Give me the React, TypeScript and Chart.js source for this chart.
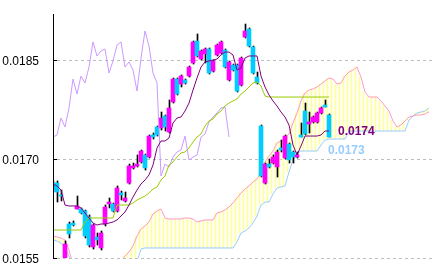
import React, { useEffect, useRef } from "react";
import { Chart, registerables } from "chart.js";

Chart.register(...registerables);

// index of the first period in every series below (periods are consecutive)
const FIRST_INDEX = -1;

const opens = [
  0.016636, 0.016636, 0.016455, 0.015485, 0.016015, 0.016030, 0.016242, 0.016242, 0.016212, 0.016121,
  0.015667, 0.015818, 0.015652, 0.016015, 0.016318, 0.016318, 0.016212, 0.016485, 0.016364, 0.016636,
  0.016864, 0.016894, 0.016955, 0.017061, 0.017030, 0.017364, 0.017485, 0.017470, 0.017652, 0.017409,
  0.017864, 0.018212, 0.018136, 0.018197, 0.018258, 0.018455, 0.018788, 0.018515, 0.018591, 0.018667,
  0.018333, 0.018576, 0.018606, 0.018652, 0.018197, 0.018424, 0.018424, 0.018121, 0.018848, 0.018970,
  0.018697, 0.018242, 0.017500, 0.016636, 0.016924, 0.016939, 0.016879, 0.017167, 0.017015, 0.017227,
  0.017106, 0.017030, 0.017364, 0.017727, 0.017530, 0.017561, 0.017561, 0.017697, 0.017818, 0.017667,
];
const highs = [
  0.016667, 0.016667, 0.016530, 0.015758, 0.016045, 0.016061, 0.016439, 0.016258, 0.016227, 0.016152,
  0.016015, 0.015879, 0.015909, 0.016303, 0.016409, 0.016333, 0.016591, 0.016515, 0.016500, 0.016924,
  0.016939, 0.017061, 0.017136, 0.017076, 0.017364, 0.017394, 0.017500, 0.017712, 0.017667, 0.017894,
  0.018227, 0.018227, 0.018273, 0.018212, 0.018409, 0.018788, 0.018894, 0.018652, 0.018682, 0.018682,
  0.018500, 0.018742, 0.018788, 0.018667, 0.018485, 0.018439, 0.018439, 0.018545, 0.019045, 0.018985,
  0.018712, 0.018318, 0.017515, 0.016939, 0.017000, 0.017061, 0.017136, 0.017288, 0.017364, 0.017242,
  0.017121, 0.017106, 0.017545, 0.017848, 0.017712, 0.017652, 0.017712, 0.017788, 0.017894, 0.017682,
];
const lows = [
  0.016500, 0.016348, 0.016364, 0.015485, 0.015803, 0.015985, 0.016242, 0.016167, 0.015803, 0.015667,
  0.015636, 0.015697, 0.015621, 0.015985, 0.016258, 0.016197, 0.016197, 0.016379, 0.016348, 0.016621,
  0.016848, 0.016879, 0.016939, 0.016833, 0.017015, 0.017303, 0.017348, 0.017439, 0.017424, 0.017394,
  0.017848, 0.017970, 0.018091, 0.018136, 0.018242, 0.018439, 0.018545, 0.018500, 0.018455, 0.018288,
  0.018318, 0.018561, 0.018591, 0.018379, 0.018182, 0.018333, 0.018015, 0.018106, 0.018833, 0.018697,
  0.018288, 0.018136, 0.016727, 0.016621, 0.016864, 0.016924, 0.016727, 0.017106, 0.017000, 0.016939,
  0.016939, 0.017015, 0.017333, 0.017364, 0.017394, 0.017545, 0.017545, 0.017682, 0.017788, 0.017333,
];
const closes = [
  0.016530, 0.016500, 0.016439, 0.015712, 0.015864, 0.016000, 0.016288, 0.016182, 0.015833, 0.015697,
  0.016000, 0.015773, 0.015879, 0.016273, 0.016348, 0.016212, 0.016561, 0.016455, 0.016409, 0.016894,
  0.016894, 0.016924, 0.017121, 0.016864, 0.017348, 0.017333, 0.017364, 0.017621, 0.017485, 0.017773,
  0.018212, 0.017985, 0.018258, 0.018152, 0.018394, 0.018773, 0.018561, 0.018636, 0.018667, 0.018303,
  0.018485, 0.018727, 0.018773, 0.018394, 0.018470, 0.018348, 0.018030, 0.018530, 0.018939, 0.018712,
  0.018303, 0.018152, 0.016742, 0.016924, 0.016879, 0.017030, 0.017106, 0.017136, 0.017348, 0.016985,
  0.017030, 0.017061, 0.017333, 0.017379, 0.017561, 0.017636, 0.017697, 0.017773, 0.017788, 0.017333,
];

const tenkan = [
  0.016621, 0.016591, 0.016530, 0.016303, 0.016288, 0.016288, 0.016288, 0.016258, 0.016182, 0.016106,
  0.016030, 0.016000, 0.016015, 0.016015, 0.016030, 0.016045, 0.016076, 0.016136, 0.016197, 0.016303,
  0.016424, 0.016530, 0.016621, 0.016682, 0.016758, 0.016909, 0.017167, 0.017273, 0.017273, 0.017318,
  0.017545, 0.017621, 0.017636, 0.017727, 0.017848, 0.018045, 0.018227, 0.018394, 0.018470, 0.018485,
  0.018500, 0.018515, 0.018576, 0.018621, 0.018621, 0.018576, 0.018348, 0.018379, 0.018530, 0.018561,
  0.018561, 0.018561, 0.018258, 0.018091, 0.017970, 0.017879, 0.017803, 0.017712, 0.017636, 0.017515,
  0.017212, 0.017061, 0.017197, 0.017348, 0.017348, 0.017348, 0.017348, 0.017364, 0.017424, 0.017424,
];
const kijun = [
  0.015924, 0.015924, 0.015924, 0.015924, 0.015924, 0.015924, 0.015924, 0.015924, 0.016045, 0.016106,
  0.016106, 0.016106, 0.016106, 0.016106, 0.016106, 0.016106, 0.016303, 0.016303, 0.016303, 0.016303,
  0.016333, 0.016379, 0.016409, 0.016439, 0.016485, 0.016545, 0.016576, 0.016682, 0.016742, 0.016909,
  0.016955, 0.017030, 0.017091, 0.017106, 0.017167, 0.017258, 0.017333, 0.017379, 0.017500, 0.017576,
  0.017606, 0.017682, 0.017727, 0.017803, 0.017848, 0.017879, 0.017909, 0.017985, 0.018030, 0.018091,
  0.018152, 0.018167, 0.018106, 0.017955, 0.017939, 0.017939, 0.017939, 0.017939, 0.017939, 0.017939,
  0.017939, 0.017939, 0.017939, 0.017939, 0.017939, 0.017939, 0.017939, 0.017939, 0.017939, 0.017939,
];
const chikou = [
  0.017333, 0.017364, 0.017621, 0.017485, 0.017773, 0.018212, 0.017985, 0.018258, 0.018152, 0.018394,
  0.018773, 0.018561, 0.018636, 0.018667, 0.018303, 0.018485, 0.018727, 0.018773, 0.018394, 0.018470,
  0.018348, 0.018030, 0.018530, 0.018939, 0.018712, 0.018303, 0.018152, 0.016742, 0.016924, 0.016879,
  0.017030, 0.017106, 0.017136, 0.017348, 0.016985, 0.017030, 0.017061, 0.017333, 0.017379, 0.017561,
  0.017636, 0.017697, 0.017773, 0.017788, 0.017333,
];
const senkouA = [
  0.015833, 0.015818, 0.015803, 0.015773, 0.015621, 0.015400, 0.015300, 0.015300, 0.015300, 0.015300,
  0.015300, 0.015300, 0.015300, 0.015300, 0.015300, 0.015300, 0.015300, 0.015439, 0.015530, 0.015591,
  0.015682, 0.015833, 0.015939, 0.015985, 0.016045, 0.016167, 0.016212, 0.016242, 0.016106, 0.016091,
  0.016091, 0.016091, 0.016091, 0.016106, 0.016106, 0.016091, 0.016045, 0.016061, 0.016076, 0.016076,
  0.016076, 0.016182, 0.016197, 0.016227, 0.016273, 0.016333, 0.016409, 0.016485, 0.016545, 0.016591,
  0.016652, 0.016697, 0.016803, 0.016955, 0.017045, 0.017121, 0.017242, 0.017273, 0.017318, 0.017379,
  0.017545, 0.017697, 0.017879, 0.018000, 0.018045, 0.018061, 0.018091, 0.018136, 0.018182, 0.018227,
  0.018212, 0.018136, 0.018152, 0.018258, 0.018318, 0.018348, 0.018394, 0.018242, 0.018015, 0.017939,
  0.017939, 0.017939, 0.017879, 0.017803, 0.017727, 0.017576, 0.017485, 0.017515, 0.017576, 0.017636,
  0.017652, 0.017667, 0.017667, 0.017682, 0.017712,
];
const senkouB = [
  0.015773, 0.015758, 0.015727, 0.015652, 0.015530, 0.015300, 0.015300, 0.015300, 0.015300, 0.015300,
  0.015300, 0.015300, 0.015300, 0.015300, 0.015300, 0.015300, 0.015300, 0.015300, 0.015300, 0.015300,
  0.015300, 0.015439, 0.015636, 0.015652, 0.015652, 0.015652, 0.015652, 0.015652, 0.015652, 0.015652,
  0.015652, 0.015652, 0.015652, 0.015652, 0.015652, 0.015652, 0.015652, 0.015652, 0.015652, 0.015652,
  0.015652, 0.015652, 0.015652, 0.015652, 0.015652, 0.015652, 0.015742, 0.015879, 0.015909, 0.015955,
  0.016030, 0.016136, 0.016303, 0.016348, 0.016348, 0.016470, 0.016561, 0.016576, 0.016591, 0.016803,
  0.016985, 0.017091, 0.017121, 0.017121, 0.017121, 0.017121, 0.017121, 0.017212, 0.017288, 0.017303,
  0.017303, 0.017303, 0.017303, 0.017303, 0.017424, 0.017424, 0.017424, 0.017424, 0.017424, 0.017424,
  0.017424, 0.017424, 0.017424, 0.017424, 0.017424, 0.017424, 0.017424, 0.017424, 0.017424, 0.017591,
  0.017652, 0.017697, 0.017712, 0.017727, 0.017773,
];

const yTicks = [0.0155, 0.017, 0.0185];
const Y_MIN = 0.0155;
const Y_MAX = 0.019197;
const X_MIN = -1;
const X_MAX = 93.75;
const tenkanLabel = "0.0174";
const senkouBLabel = "0.0173";

const COLORS = {
  up: "#FF00FF",
  down: "#00CCFF",
  wick: "#000000",
  tenkan: "#800080",
  kijun: "#99CC00",
  chikou: "#CC99FF",
  senkouA: "#FF99CC",
  senkouB: "#99CCFF",
  cloud: "#FFFF99",
  grid: "#BEBEBE",
};

const toPoints = (arr: number[]) => arr.map((v, k) => ({ x: FIRST_INDEX + k, y: v }));

const decorPlugin = {
  id: "decor",
  beforeDatasetsDraw(chart: any) {
    const { ctx, chartArea: a, scales } = chart;
    const ys = scales.y;
    ctx.save();
    ctx.lineWidth = 1;
    ctx.strokeStyle = COLORS.grid;
    ctx.setLineDash([3, 3]);
    for (const v of yTicks) {
      const py = Math.floor(ys.getPixelForValue(v) + 0.01) + 0.5;
      ctx.beginPath();
      ctx.moveTo(a.left + 4, py);
      ctx.lineTo(a.right, py);
      ctx.stroke();
    }
    ctx.restore();
  },
  afterDatasetsDraw(chart: any) {
    const { ctx, chartArea: a, scales } = chart;
    const ys = scales.y;
    const xs = scales.x;
    ctx.save();
    ctx.lineWidth = 1;
    ctx.strokeStyle = "#000";
    ctx.setLineDash([]);
    ctx.beginPath();
    ctx.moveTo(a.left + 0.5, a.top);
    ctx.lineTo(a.left + 0.5, a.bottom + 1);
    ctx.stroke();
    ctx.fillStyle = "#000";
    ctx.font = "12px 'Liberation Sans Narrow', 'Liberation Sans', Arial, sans-serif";
    ctx.textAlign = "right";
    ctx.textBaseline = "middle";
    for (const v of yTicks) {
      const py = Math.floor(ys.getPixelForValue(v) + 0.01) + 0.5;
      ctx.beginPath();
      ctx.moveTo(a.left, py);
      ctx.lineTo(a.left + 4, py);
      ctx.stroke();
      ctx.fillText(v.toFixed(4), a.left - 14, py + 1);
    }
    const lastIdx = FIRST_INDEX + closes.length - 1;
    const lx = xs.getPixelForValue(lastIdx);
    ctx.font = "bold 12px 'Liberation Sans', Arial, sans-serif";
    ctx.textAlign = "left";
    ctx.textBaseline = "alphabetic";
    ctx.fillStyle = COLORS.tenkan;
    ctx.fillText(tenkanLabel, lx + 9, ys.getPixelForValue(tenkan[tenkan.length - 1]) + 4);
    ctx.fillStyle = COLORS.senkouB;
    const sbLast = senkouB[lastIdx - FIRST_INDEX];
    ctx.fillText(senkouBLabel, lx - 1, ys.getPixelForValue(sbLast) + 15);
    ctx.restore();
  },
};

export default function App() {
  const ref = useRef<HTMLCanvasElement | null>(null);

  useEffect(() => {
    if (!ref.current) return;
    const bodyColors = closes.map((c, k) => (c >= opens[k] ? COLORS.up : COLORS.down));
    const line = (label: string, data: number[], color: string, order: number) => ({
      type: "line" as const,
      label,
      data: toPoints(data),
      xAxisID: "x",
      borderColor: color,
      borderWidth: 1,
      pointRadius: 0,
      pointHoverRadius: 0,
      tension: 0,
      fill: false,
      order,
      clip: 0,
    });
    const hiddenX = (min: number, max: number) => ({
      type: "linear",
      axis: "x",
      min,
      max,
      offset: false,
      display: false,
    });
    const chart = new Chart(ref.current, {
      type: "bar",
      data: {
        datasets: [
          {
            type: "bar",
            label: "cloud",
            xAxisID: "xc",
            data: senkouA.map((v, k) => ({
              x: FIRST_INDEX + k,
              y: [Math.min(v, senkouB[k]), Math.max(v, senkouB[k])],
            })),
            backgroundColor: COLORS.cloud,
            barThickness: 1,
            grouped: false,
            borderWidth: 0,
            order: 10,
            clip: 0,
          } as any,
          line("senkouA", senkouA, COLORS.senkouA, 9),
          line("senkouB", senkouB, COLORS.senkouB, 9),
          {
            type: "bar",
            label: "wick",
            xAxisID: "xw",
            data: highs.map((h, k) => ({ x: FIRST_INDEX + k, y: [lows[k], h] })),
            backgroundColor: COLORS.wick,
            barThickness: 1,
            grouped: false,
            borderWidth: 0,
            order: 7,
            clip: 0,
          } as any,
          {
            type: "bar",
            label: "body",
            xAxisID: "x",
            data: opens.map((o, k) => ({ x: FIRST_INDEX + k, y: [o, closes[k]] })),
            backgroundColor: bodyColors,
            barThickness: 4,
            minBarLength: 1,
            grouped: false,
            borderWidth: 0,
            order: 6,
            clip: 0,
          } as any,
          line("chikou", chikou, COLORS.chikou, 3),
          line("kijun", kijun, COLORS.kijun, 2),
          line("tenkan", tenkan, COLORS.tenkan, 1),
        ],
      },
      options: {
        responsive: false,
        animation: false,
        devicePixelRatio: 1,
        events: [],
        layout: { autoPadding: false, padding: { left: 0, right: 3, top: 14, bottom: 14 } },
        plugins: { legend: { display: false }, tooltip: { enabled: false } },
        scales: {
          x: hiddenX(X_MIN, X_MAX),
          xw: hiddenX(X_MIN - 0.125, X_MAX - 0.125),
          xc: hiddenX(X_MIN + 0.375, X_MAX + 0.375),
          y: {
            type: "linear",
            position: "left",
            min: Y_MIN,
            max: Y_MAX,
            beginAtZero: false,
            grid: { display: false, drawTicks: false },
            border: { display: false },
            ticks: { display: false, padding: 0 },
            afterFit: (s: any) => {
              s.width = 53;
            },
          },
        } as any,
      },
      plugins: [decorPlugin],
    });
    return () => chart.destroy();
  }, []);

  return (
    <div style={{ position: "fixed", left: 0, top: 0, width: 435, height: 272, background: "#fff" }}>
      <canvas ref={ref} width={435} height={272} style={{ display: "block", width: 435, height: 272 }} />
    </div>
  );
}
